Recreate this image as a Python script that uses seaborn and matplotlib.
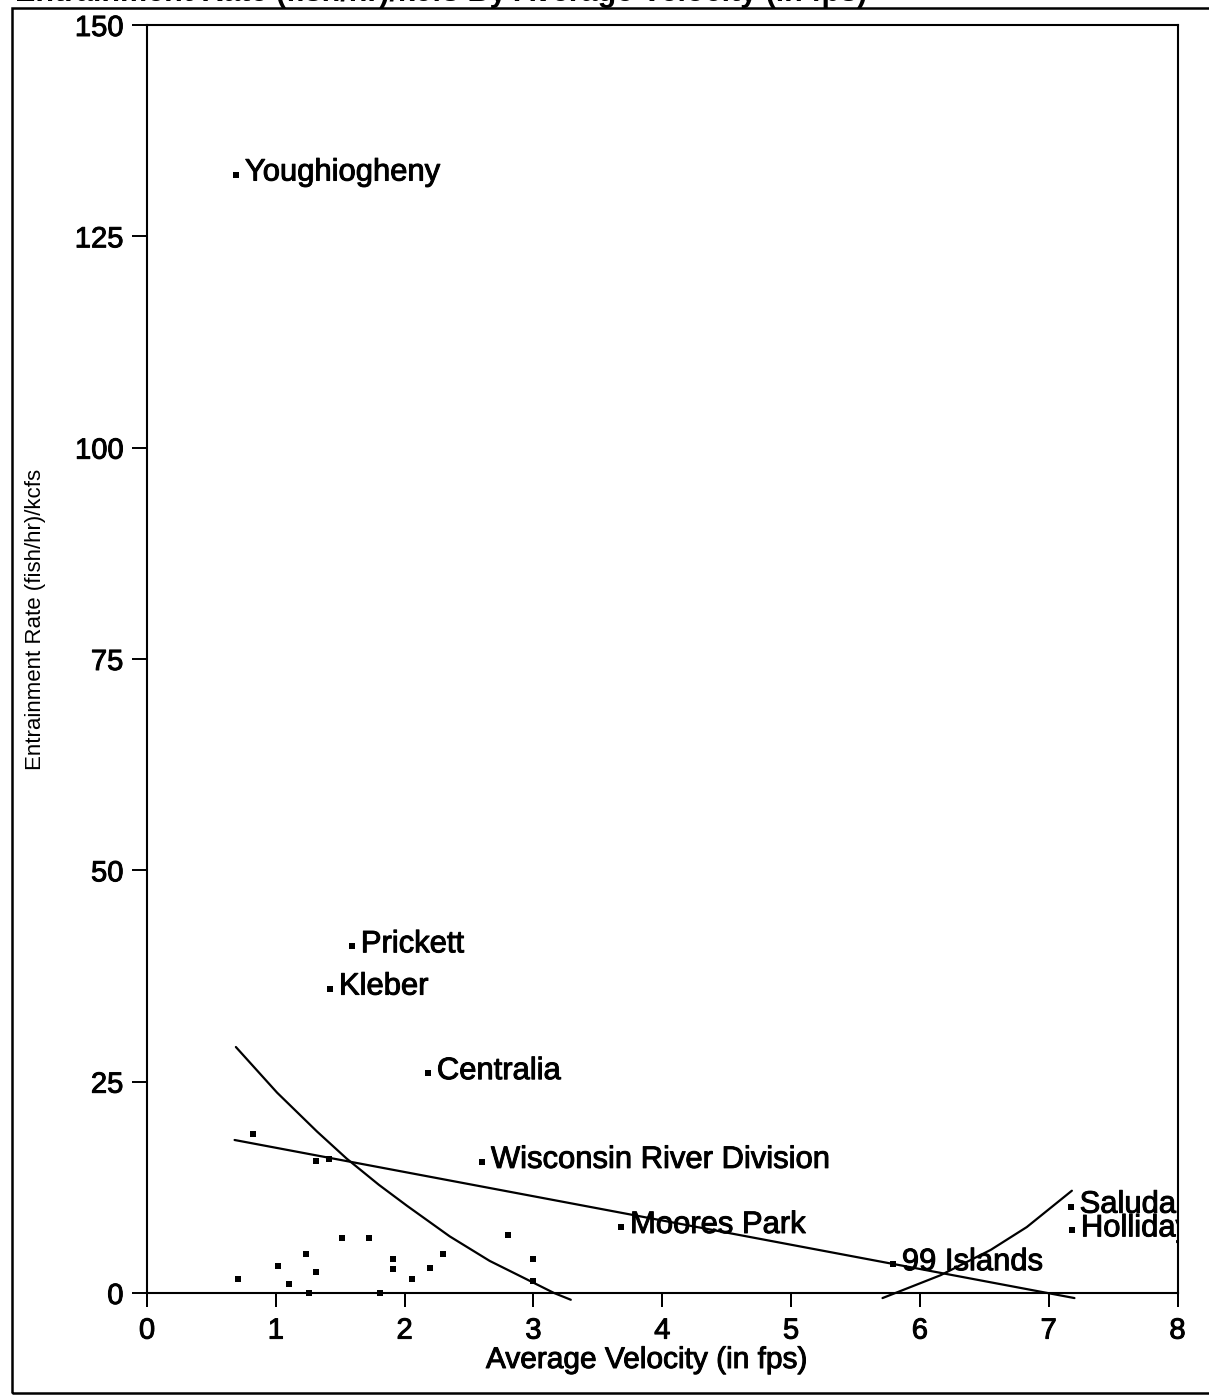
import matplotlib
matplotlib.use("Agg")
import matplotlib.pyplot as plt
import matplotlib.transforms as mtransforms
import matplotlib.patheffects as pe
from matplotlib.patches import Rectangle
import pandas as pd
import seaborn as sns

# Named sites: average velocity (fps) and entrainment rate ((fish/hr)/kcfs)
site_names = ["Youghiogheny", "Prickett", "Kleber", "Centralia",
              "Wisconsin River Division", "Moores Park", "99 Islands",
              "Saluda", "Holliday"]
site_velocity = [0.69, 1.59, 1.42, 2.18, 2.60, 3.68, 5.79, 7.17, 7.18]
site_rate = [132.3, 41.0, 36.0, 26.0, 15.5, 7.8, 3.4, 10.2, 7.4]

# Unnamed sites
other_velocity = [0.82, 1.31, 1.41, 1.51, 1.72, 1.235, 1.02, 0.71, 1.10, 1.31,
                  1.26, 1.81, 1.91, 1.91, 2.06, 2.20, 2.30, 2.80, 3.00, 3.00]
other_rate = [18.8, 15.6, 15.8, 6.5, 6.5, 4.6, 3.2, 1.65, 1.1, 2.5,
              0.0, 0.0, 4.0, 2.8, 1.6, 2.9, 4.6, 6.9, 4.0, 1.4]

# Fitted trend lines
linear_fit_x = [0.68, 7.20]
linear_fit_y = [18.1, -0.6]
low_curve_x = [0.69, 1.01, 1.32, 1.55, 1.80, 2.02, 2.35, 2.66, 2.95, 3.16, 3.29]
low_curve_y = [29.1, 23.7, 19.1, 15.9, 12.8, 10.3, 6.7, 3.8, 1.6, 0.0, -0.8]
high_curve_x = [5.71, 6.16, 6.55, 6.83, 7.18]
high_curve_y = [-0.6, 2.1, 5.1, 7.8, 12.1]

x_ticks = [0, 1, 2, 3, 4, 5, 6, 7, 8]
y_ticks = [0, 25, 50, 75, 100, 125, 150]

W, H = 1209, 1397
sns.set_style("white")
plt.rcParams["font.family"] = ["Liberation Sans", "DejaVu Sans"]

# A light outline gives the printed type its heavier weight
heavy = [pe.withStroke(linewidth=0.7, foreground="black")]

fig = plt.figure(figsize=(W / 100, H / 100), dpi=100)
ax = fig.add_axes([147 / W, 1 - 1293 / H, 1030.5 / W, 1268 / H])

points = pd.DataFrame({
    "velocity": site_velocity + other_velocity,
    "rate": site_rate + other_rate,
})
sns.scatterplot(data=points, x="velocity", y="rate", marker="s", s=22,
                color="black", linewidth=0, ax=ax, zorder=3, clip_on=False)

# Trend lines are allowed to dip just below the zero line
line_kw = dict(color="black", linewidth=1.6, estimator=None, sort=False, ax=ax)
for lx, ly in [(linear_fit_x, linear_fit_y), (low_curve_x, low_curve_y),
               (high_curve_x, high_curve_y)]:
    sns.lineplot(x=lx, y=ly, **line_kw)
for line in ax.get_lines():
    line.set_clip_on(False)

# Site names set just to the right of their markers, clipped at the frame
label_offset = mtransforms.offset_copy(ax.transData, fig=fig, x=6.5, y=1.5,
                                       units="points")
for name, vx, vy in zip(site_names, site_velocity, site_rate):
    ax.text(vx, vy, name, transform=label_offset, ha="left", va="center",
            fontsize=22.3, color="black", clip_on=True, path_effects=heavy)

ax.set_xlim(0, 8)
ax.set_ylim(0, 150)

for side in ["left", "right", "top", "bottom"]:
    ax.spines[side].set_visible(True)
    ax.spines[side].set_color("black")
    ax.spines[side].set_linewidth(1.5)

ax.set_xticks(x_ticks)
ax.set_yticks(y_ticks)
ax.set_xticklabels([str(t) for t in x_ticks])
ax.set_yticklabels([str(t) for t in y_ticks])
ax.tick_params(axis="x", which="major", direction="out", length=10, width=1.4,
               pad=7, color="black", labelcolor="black", bottom=True,
               labelsize=21)
ax.tick_params(axis="y", which="major", direction="out", length=10.5,
               width=1.4, pad=6.5, color="black", labelcolor="black",
               left=True, labelsize=21)
for lbl in ax.get_xticklabels() + ax.get_yticklabels():
    lbl.set_path_effects(heavy)

# Tick marks hanging below the zero line at each x tick
ax.vlines(x_ticks, 0, -14 / 1268, transform=ax.get_xaxis_transform(),
          colors="black", linewidth=1.4, clip_on=False, zorder=2.6)

ax.set_xlabel("Average Velocity (in fps)", fontsize=21.5, color="black",
              path_effects=heavy)
ax.xaxis.set_label_coords(0.485, -0.0418)
ax.set_ylabel("Entrainment Rate (fish/hr)/kcfs", fontsize=16, color="black")
ax.yaxis.set_label_coords(-0.098, 0.5315)

# Outer frame around the whole graphic
fig.add_artist(Rectangle((12 / W, 4 / H), 1.05, 1385 / H, fill=False,
                         edgecolor="black", linewidth=1.8,
                         transform=fig.transFigure, clip_on=False))

# Heading above the frame, running off the top edge
fig.text(15 / W, 1 - 1 / H,
         "Entrainment Rate (fish/hr)/kcfs By Average Velocity (in fps)",
         fontsize=22, fontweight="bold", ha="left", va="baseline",
         color="black")

fig.savefig("out.png", dpi=100, facecolor="white")
